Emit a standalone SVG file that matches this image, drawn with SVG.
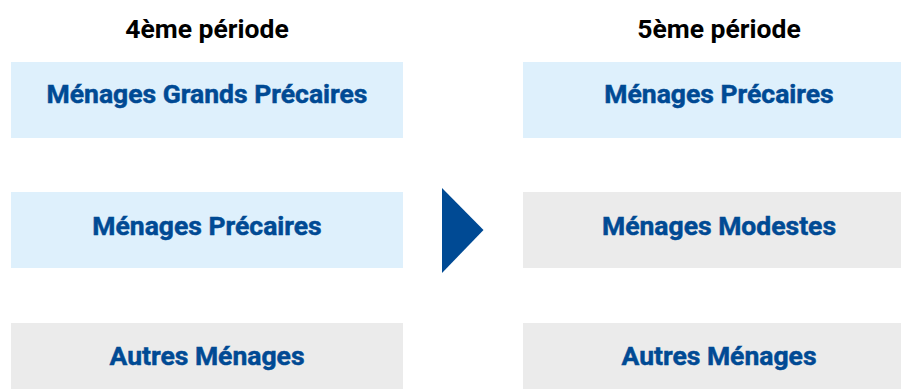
<svg xmlns="http://www.w3.org/2000/svg" width="901" height="389" viewBox="0 0 901 389">
<style>
.title{font-family:Roboto,"Liberation Sans",sans-serif;font-weight:700;font-size:26.5px;fill:#000;text-anchor:middle}
.lbl{font-family:Roboto,"Liberation Sans",sans-serif;font-weight:700;font-size:26.5px;fill:#004A94;stroke:#004A94;stroke-width:0.5;text-anchor:middle}
.blue{fill:#DEF0FC}
.grey{fill:#EBEBEB}
</style>
<rect width="901" height="389" fill="#fff"/>
<text class="title" x="207" y="38">4ème période</text>
<text class="title" x="719" y="38">5ème période</text>
<g id="n_l1"><rect class="blue" x="11" y="62" width="392" height="76"/><text class="lbl" x="207" y="103">Ménages Grands Précaires</text></g>
<g id="n_l2"><rect class="blue" x="11" y="192" width="392" height="76"/><text class="lbl" x="207" y="235">Ménages Précaires</text></g>
<g id="n_l3"><rect class="grey" x="11" y="323" width="392" height="76"/><text class="lbl" x="207" y="365">Autres Ménages</text></g>
<g id="n_r1"><rect class="blue" x="523" y="62" width="392" height="76"/><text class="lbl" x="719" y="103">Ménages Précaires</text></g>
<g id="n_r2"><rect class="grey" x="523" y="192" width="392" height="76"/><text class="lbl" x="719" y="235">Ménages Modestes</text></g>
<g id="n_r3"><rect class="grey" x="523" y="323" width="392" height="76"/><text class="lbl" x="719" y="365">Autres Ménages</text></g>
<g id="connectors"><polygon points="442,188 483.5,230 442,273" fill="#004A94"/></g>
</svg>
